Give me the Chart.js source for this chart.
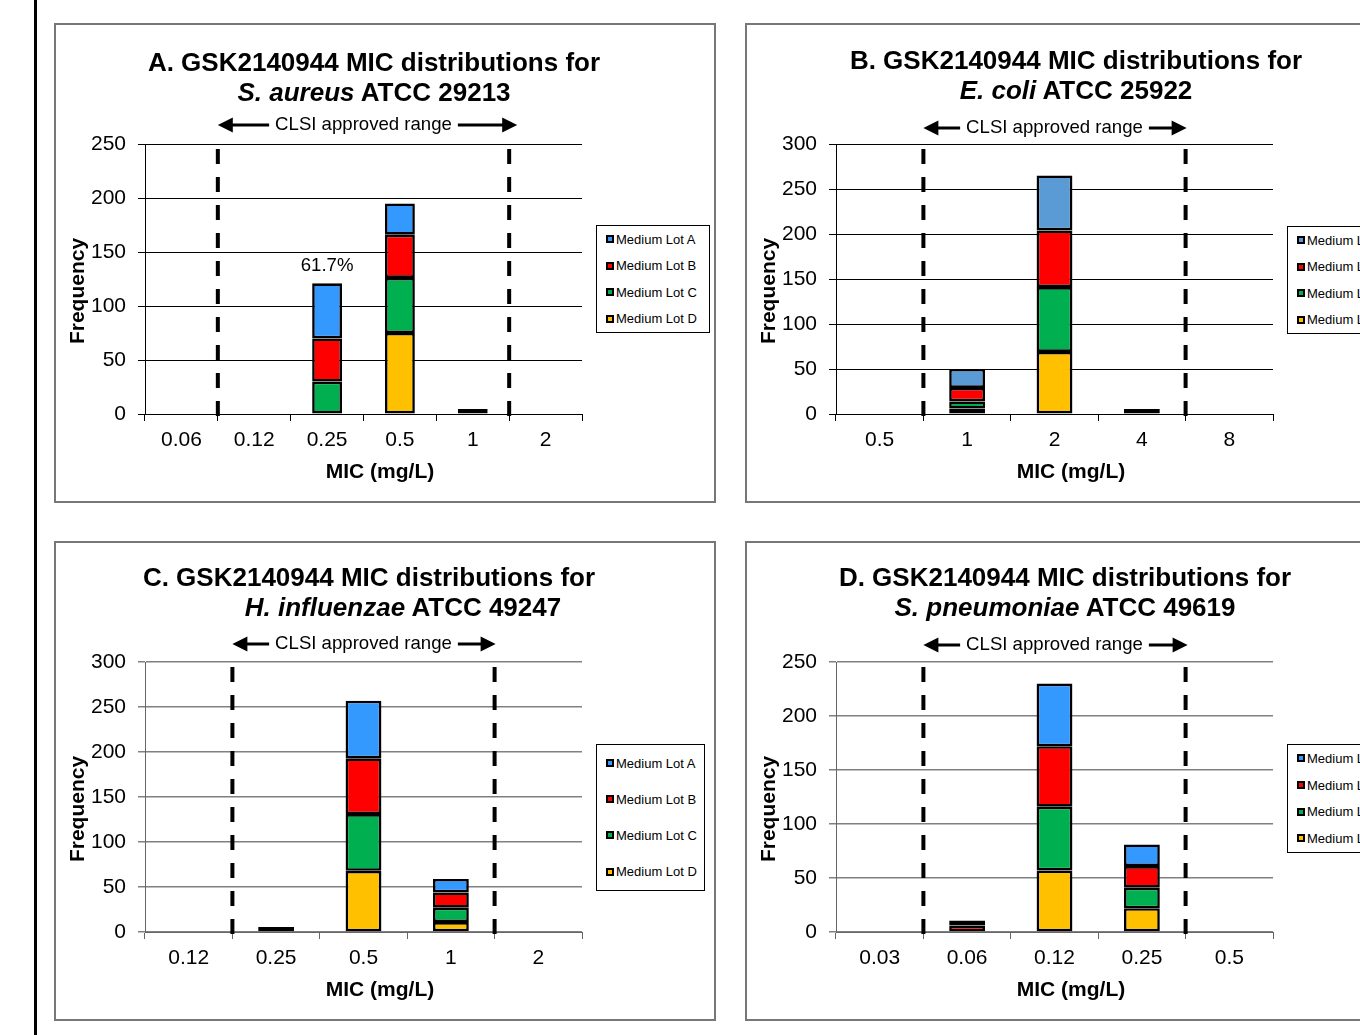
<!DOCTYPE html>
<html>
<head>
<meta charset="utf-8">
<script src="https://cdn.jsdelivr.net/npm/chart.js@4.4.0/dist/chart.umd.min.js"></script>
<style>
    body { margin: 0; width: 1360px; height: 1035px; overflow: hidden; background: #fff; position: relative;
           font-family: "Liberation Sans", Arial, sans-serif; color: #000; }
    .rule { position: absolute; left: 34px; top: 0; width: 3px; height: 1035px; background: #000; }
    .panel { position: absolute; width: 662px; height: 480px; }
    .panel canvas { position: absolute; left: 0; top: 0; }
    .frame { position: absolute; left: 0; top: 0; width: 662px; height: 480px; box-sizing: border-box;
             border: 2px solid #777; pointer-events: none; }
    .title { position: absolute; width: 660px; text-align: center; font-weight: bold; font-size: 26px;
             line-height: 30px; white-space: nowrap; }
    .title div { position: relative; }
    .legend { position: absolute; box-sizing: border-box; border: 1px solid #000; background: #fff;
              font-size: 13px; padding-left: 9px; white-space: nowrap; }
    .legend .item { display: flex; align-items: center; }
    .legend .sw { display: inline-block; width: 4px; height: 4px; border: 2px solid #000; margin-right: 2px; }
</style>
</head>
<body>
<div class="rule"></div>

<div class="panel" id="panelA" style="left:54px; top:23px;">
    <canvas id="chartA" width="662" height="480"></canvas>
    <div class="frame"></div>
    <div class="title" style="left:-10px; top:24px;">
        <div>A. GSK2140944 MIC distributions for</div>
        <div><i>S. aureus</i> ATCC 29213</div>
    </div>
    <div class="legend" style="left:542px; top:202px; width:114px; height:108px;"></div>
</div>

<div class="panel" id="panelB" style="left:745px; top:23px;">
    <canvas id="chartB" width="662" height="480"></canvas>
    <div class="frame"></div>
    <div class="title" style="left:1px; top:22px;">
        <div>B. GSK2140944 MIC distributions for</div>
        <div><i>E. coli</i> ATCC 25922</div>
    </div>
    <div class="legend" style="left:542px; top:203px; width:114px; height:108px;"></div>
</div>

<div class="panel" id="panelC" style="left:54px; top:541px;">
    <canvas id="chartC" width="662" height="480"></canvas>
    <div class="frame"></div>
    <div class="title" style="left:-15px; top:21px;">
        <div>C. GSK2140944 MIC distributions for</div>
        <div style="left:34px;"><i>H. influenzae</i> ATCC 49247</div>
    </div>
    <div class="legend" style="left:542px; top:203px; width:109px; height:147px;"></div>
</div>

<div class="panel" id="panelD" style="left:745px; top:541px;">
    <canvas id="chartD" width="662" height="480"></canvas>
    <div class="frame"></div>
    <div class="title" style="left:-10px; top:21px;">
        <div>D. GSK2140944 MIC distributions for</div>
        <div><i>S. pneumoniae</i> ATCC 49619</div>
    </div>
    <div class="legend" style="left:542px; top:203px; width:114px; height:109px;"></div>
</div>

<script>
Chart.defaults.font.family = '"Liberation Sans", Arial, sans-serif';
Chart.defaults.color = '#000';

// Series names and colours
const lots = ['Medium Lot A', 'Medium Lot B', 'Medium Lot C', 'Medium Lot D'];
const lotColors = ['#3399ff', '#ff0000', '#00b050', '#ffc000'];
const lotColorsEcoli = ['#5b9bd5', '#ff0000', '#00b050', '#ffc000'];

// A. S. aureus ATCC 29213
const micAureus = ['0.06', '0.12', '0.25', '0.5', '1', '2'];
const aureusLotA = [0, 0, 51, 29, 0, 0];
const aureusLotB = [0, 0, 40, 40, 0, 0];
const aureusLotC = [0, 0, 30, 51, 0, 0];
const aureusLotD = [0, 0, 0, 75, 4, 0];

// B. E. coli ATCC 25922
const micEcoli = ['0.5', '1', '2', '4', '8'];
const ecoliLotA = [0, 21, 61, 0, 0];
const ecoliLotB = [0, 15, 63, 0, 0];
const ecoliLotC = [0, 8, 72, 0, 0];
const ecoliLotD = [0, 6, 69, 4, 0];

// C. H. influenzae ATCC 49247
const micHflu = ['0.12', '0.25', '0.5', '1', '2'];
const hfluLotA = [0, 0, 64, 15, 0];
const hfluLotB = [0, 0, 62, 17, 0];
const hfluLotC = [0, 0, 63, 16, 0];
const hfluLotD = [0, 4, 68, 11, 0];

// D. S. pneumoniae ATCC 49619
const micSpn = ['0.03', '0.06', '0.12', '0.25', '0.5'];
const spnLotA = [0, 3, 58, 20, 0];
const spnLotB = [0, 6, 56, 20, 0];
const spnLotC = [0, 0, 59, 19, 0];
const spnLotD = [0, 0, 57, 22, 0];

const yTicksAureus = 250, yTicksEcoli = 300, yTicksHflu = 300, yTicksSpn = 250;

// dashed CLSI range lines, arrow label and optional note above a bar
const clsiPlugin = {
    id: 'clsi',
    afterDatasetsDraw(chart, args, o) {
        const { ctx, chartArea: area, scales: { x, y } } = chart;
        const labels = chart.data.labels;
        const half = (x.getPixelForValue(1) - x.getPixelForValue(0)) / 2;
        const left = x.getPixelForValue(labels.indexOf(o.from)) - half;
        const right = x.getPixelForValue(labels.indexOf(o.to)) + half;

        ctx.save();
        ctx.strokeStyle = '#000';
        ctx.fillStyle = '#000';
        ctx.lineWidth = 4;
        ctx.setLineDash([15, 13]);
        [left, right].forEach(px => {
            ctx.beginPath();
            ctx.moveTo(px, area.top + 5);
            ctx.lineTo(px, area.bottom + 2);
            ctx.stroke();
        });
        ctx.setLineDash([]);

        ctx.font = '18.6px "Liberation Sans", Arial, sans-serif';
        ctx.textAlign = 'center';
        ctx.textBaseline = 'middle';
        const mid = (left + right) / 2;
        const w = ctx.measureText(o.text).width;
        const tipL = left, tipR = right + o.overhang;
        ctx.fillText(o.text, mid, o.y);
        ctx.lineWidth = 3;
        ctx.beginPath();
        ctx.moveTo(tipL + 12, o.y); ctx.lineTo(mid - w / 2 - 6, o.y);
        ctx.moveTo(mid + w / 2 + 6, o.y); ctx.lineTo(tipR - 12, o.y);
        ctx.stroke();
        ctx.beginPath();
        ctx.moveTo(tipL, o.y); ctx.lineTo(tipL + 15, o.y - 7.5); ctx.lineTo(tipL + 15, o.y + 7.5);
        ctx.closePath(); ctx.fill();
        ctx.beginPath();
        ctx.moveTo(tipR, o.y); ctx.lineTo(tipR - 15, o.y - 7.5); ctx.lineTo(tipR - 15, o.y + 7.5);
        ctx.closePath(); ctx.fill();

        if (o.note) {
            const i = labels.indexOf(o.note.at);
            const total = chart.data.datasets.reduce((s, d) => s + (d.data[i] || 0), 0);
            ctx.fillText(o.note.text, x.getPixelForValue(i), y.getPixelForValue(total) - 17);
        }
        ctx.restore();
    }
};

const axisTitles = {
    id: 'axisTitles',
    afterDraw(chart, args, o) {
        const ctx = chart.ctx;
        ctx.save();
        ctx.fillStyle = '#000';
        ctx.font = 'bold 21px "Liberation Sans", Arial, sans-serif';
        ctx.textAlign = 'center';
        ctx.textBaseline = 'middle';
        ctx.fillText(o.x, 326, 449);
        ctx.translate(24, 268);
        ctx.rotate(-Math.PI / 2);
        ctx.fillText(o.y, 0, 0);
        ctx.restore();
    }
};

function drawPanel(cfg) {
    const panel = document.getElementById(cfg.panel);
    panel.querySelector('.legend').innerHTML = lots.map((name, i) =>
        `<div class="item" style="height:${cfg.legendRow}px"><span class="sw" style="background:${cfg.colors[i]}"></span>${name}</div>`
    ).join('');

    // first dataset sits at the bottom of the stack, so lot D goes first;
    // empty cells are skipped so that tiny counts can still show as a thin bar
    const datasets = cfg.series.map((data, i) => ({
        label: lots[i],
        data: data.map(v => v || null),
        backgroundColor: cfg.colors[i],
        borderColor: '#000',
        borderWidth: 2.6,
        borderSkipped: false,
        minBarLength: 5,
        barPercentage: 0.41,
        categoryPercentage: 1
    })).reverse();

    return new Chart(panel.querySelector('canvas'), {
        type: 'bar',
        data: { labels: cfg.labels, datasets: datasets },
        options: {
            responsive: false,
            animation: false,
            layout: { padding: { top: 121, right: 134, left: 0, bottom: 0 } },
            plugins: {
                legend: { display: false },
                tooltip: { enabled: false },
                clsi: { from: cfg.from, to: cfg.to, text: 'CLSI approved range', y: cfg.arrowY, overhang: cfg.overhang, note: cfg.note },
                axisTitles: { x: 'MIC (mg/L)', y: 'Frequency' }
            },
            scales: {
                x: {
                    stacked: true,
                    grid: { offset: true, drawOnChartArea: false, tickLength: 7, color: cfg.axisColor },
                    border: { color: cfg.axisColor, width: 1 },
                    ticks: { font: { size: 21 }, padding: 7, maxRotation: 0, autoSkip: false, color: '#000' },
                    afterFit: s => { s.height = 89; }
                },
                y: {
                    stacked: true,
                    min: 0,
                    max: cfg.yMax,
                    ticks: { stepSize: 50, font: { size: 21 }, padding: 12, color: '#000' },
                    grid: { color: cfg.gridColor, lineWidth: cfg.gridWidth, tickLength: 7 },
                    border: { color: cfg.axisColor, width: 1 },
                    afterFit: s => { s.width = 91; }
                }
            }
        },
        plugins: [clsiPlugin, axisTitles]
    });
}

drawPanel({
    panel: 'panelA', labels: micAureus, series: [aureusLotA, aureusLotB, aureusLotC, aureusLotD],
    colors: lotColors, yMax: yTicksAureus, from: '0.12', to: '1', arrowY: 102, overhang: 8,
    note: { at: '0.25', text: '61.7%' },
    gridColor: '#000', gridWidth: 1, axisColor: '#000', legendRow: 26.5
});
drawPanel({
    panel: 'panelB', labels: micEcoli, series: [ecoliLotA, ecoliLotB, ecoliLotC, ecoliLotD],
    colors: lotColorsEcoli, yMax: yTicksEcoli, from: '1', to: '4', arrowY: 105, overhang: 1,
    gridColor: '#000', gridWidth: 1, axisColor: '#000', legendRow: 26.5
});
drawPanel({
    panel: 'panelC', labels: micHflu, series: [hfluLotA, hfluLotB, hfluLotC, hfluLotD],
    colors: lotColors, yMax: yTicksHflu, from: '0.25', to: '1', arrowY: 103, overhang: 1,
    gridColor: '#808080', gridWidth: 1.5, axisColor: '#666', legendRow: 36.2
});
drawPanel({
    panel: 'panelD', labels: micSpn, series: [spnLotA, spnLotB, spnLotC, spnLotD],
    colors: lotColors, yMax: yTicksSpn, from: '0.06', to: '0.25', arrowY: 104, overhang: 2,
    gridColor: '#808080', gridWidth: 1.5, axisColor: '#666', legendRow: 26.7
});
</script>
</body>
</html>
